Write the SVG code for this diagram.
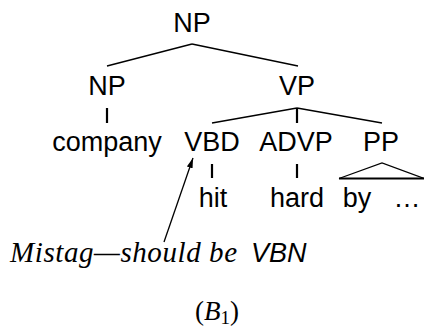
<svg xmlns="http://www.w3.org/2000/svg" width="424" height="327" viewBox="0 0 424 327">
  <style>
    .lbl { font-family: "Liberation Sans", Arial, sans-serif; font-size: 27px; fill: #000; text-anchor: middle; }
    .edge { stroke: #000; stroke-width: 1.3; fill: none; stroke-linecap: butt; }
    .unary { stroke: #000; stroke-width: 2.2; fill: none; }
    .note { font-family: "Liberation Serif", "Times New Roman", serif; font-style: italic; font-size: 29px; fill: #000; }
    .tag { font-family: "Liberation Sans", Arial, sans-serif; font-style: italic; font-size: 27px; fill: #000; }
    .cap { font-family: "Liberation Serif", "Times New Roman", serif; font-size: 27px; fill: #000; }
  </style>
  <defs>
    <marker id="head" viewBox="0 0 10 6" refX="10" refY="3" markerWidth="10" markerHeight="6" markerUnits="userSpaceOnUse" orient="auto">
      <path d="M0,0 L10,3 L0,6 Z" fill="#000"/>
    </marker>
  </defs>

  <!-- tree edges -->
  <g id="connectors">
    <line class="edge" x1="192" y1="44" x2="107" y2="66"/>
    <line class="edge" x1="192" y1="44" x2="298" y2="66"/>
    <line class="unary" x1="107" y1="108" x2="107" y2="123"/>
    <line class="edge" x1="297" y1="108" x2="212" y2="123"/>
    <line class="unary" x1="297" y1="108" x2="297" y2="123"/>
    <line class="edge" x1="297" y1="108" x2="382" y2="123"/>
    <line class="unary" x1="212" y1="164" x2="212" y2="178"/>
    <line class="unary" x1="297" y1="164" x2="297" y2="178"/>
    <!-- collapsed PP subtree -->
    <polyline class="edge" points="339,178.5 382,163 424,178.5"/>
    <line class="unary" x1="339" y1="178.5" x2="424" y2="178.5"/>
    <!-- annotation pointer -->
    <line class="edge" x1="164" y1="242" x2="193" y2="158" marker-end="url(#head)"/>
  </g>

  <g id="np-root"><text class="lbl" x="192" y="32">NP</text></g>
  <g id="np"><text class="lbl" x="107" y="95">NP</text></g>
  <g id="vp"><text class="lbl" x="297" y="95">VP</text></g>
  <g id="company"><text class="lbl" x="107" y="151">company</text></g>
  <g id="vbd"><text class="lbl" x="212" y="151">VBD</text></g>
  <g id="advp"><text class="lbl" x="296" y="151">ADVP</text></g>
  <g id="pp"><text class="lbl" x="381" y="151">PP</text></g>
  <g id="hit"><text class="lbl" x="213" y="207">hit</text></g>
  <g id="hard"><text class="lbl" x="297" y="207">hard</text></g>
  <g id="by"><text class="lbl" x="357" y="207">by</text><text class="lbl" x="407" y="207">…</text></g>

  <g id="note">
    <text x="10" y="262"><tspan class="note" textLength="227" lengthAdjust="spacing">Mistag—should be</tspan><tspan class="tag" x="251">VBN</tspan></text>
  </g>

  <g id="caption">
    <text class="cap" x="195" y="320">(<tspan font-style="italic">B</tspan><tspan font-size="19" dy="4">1</tspan><tspan dy="-4">)</tspan></text>
  </g>
</svg>
